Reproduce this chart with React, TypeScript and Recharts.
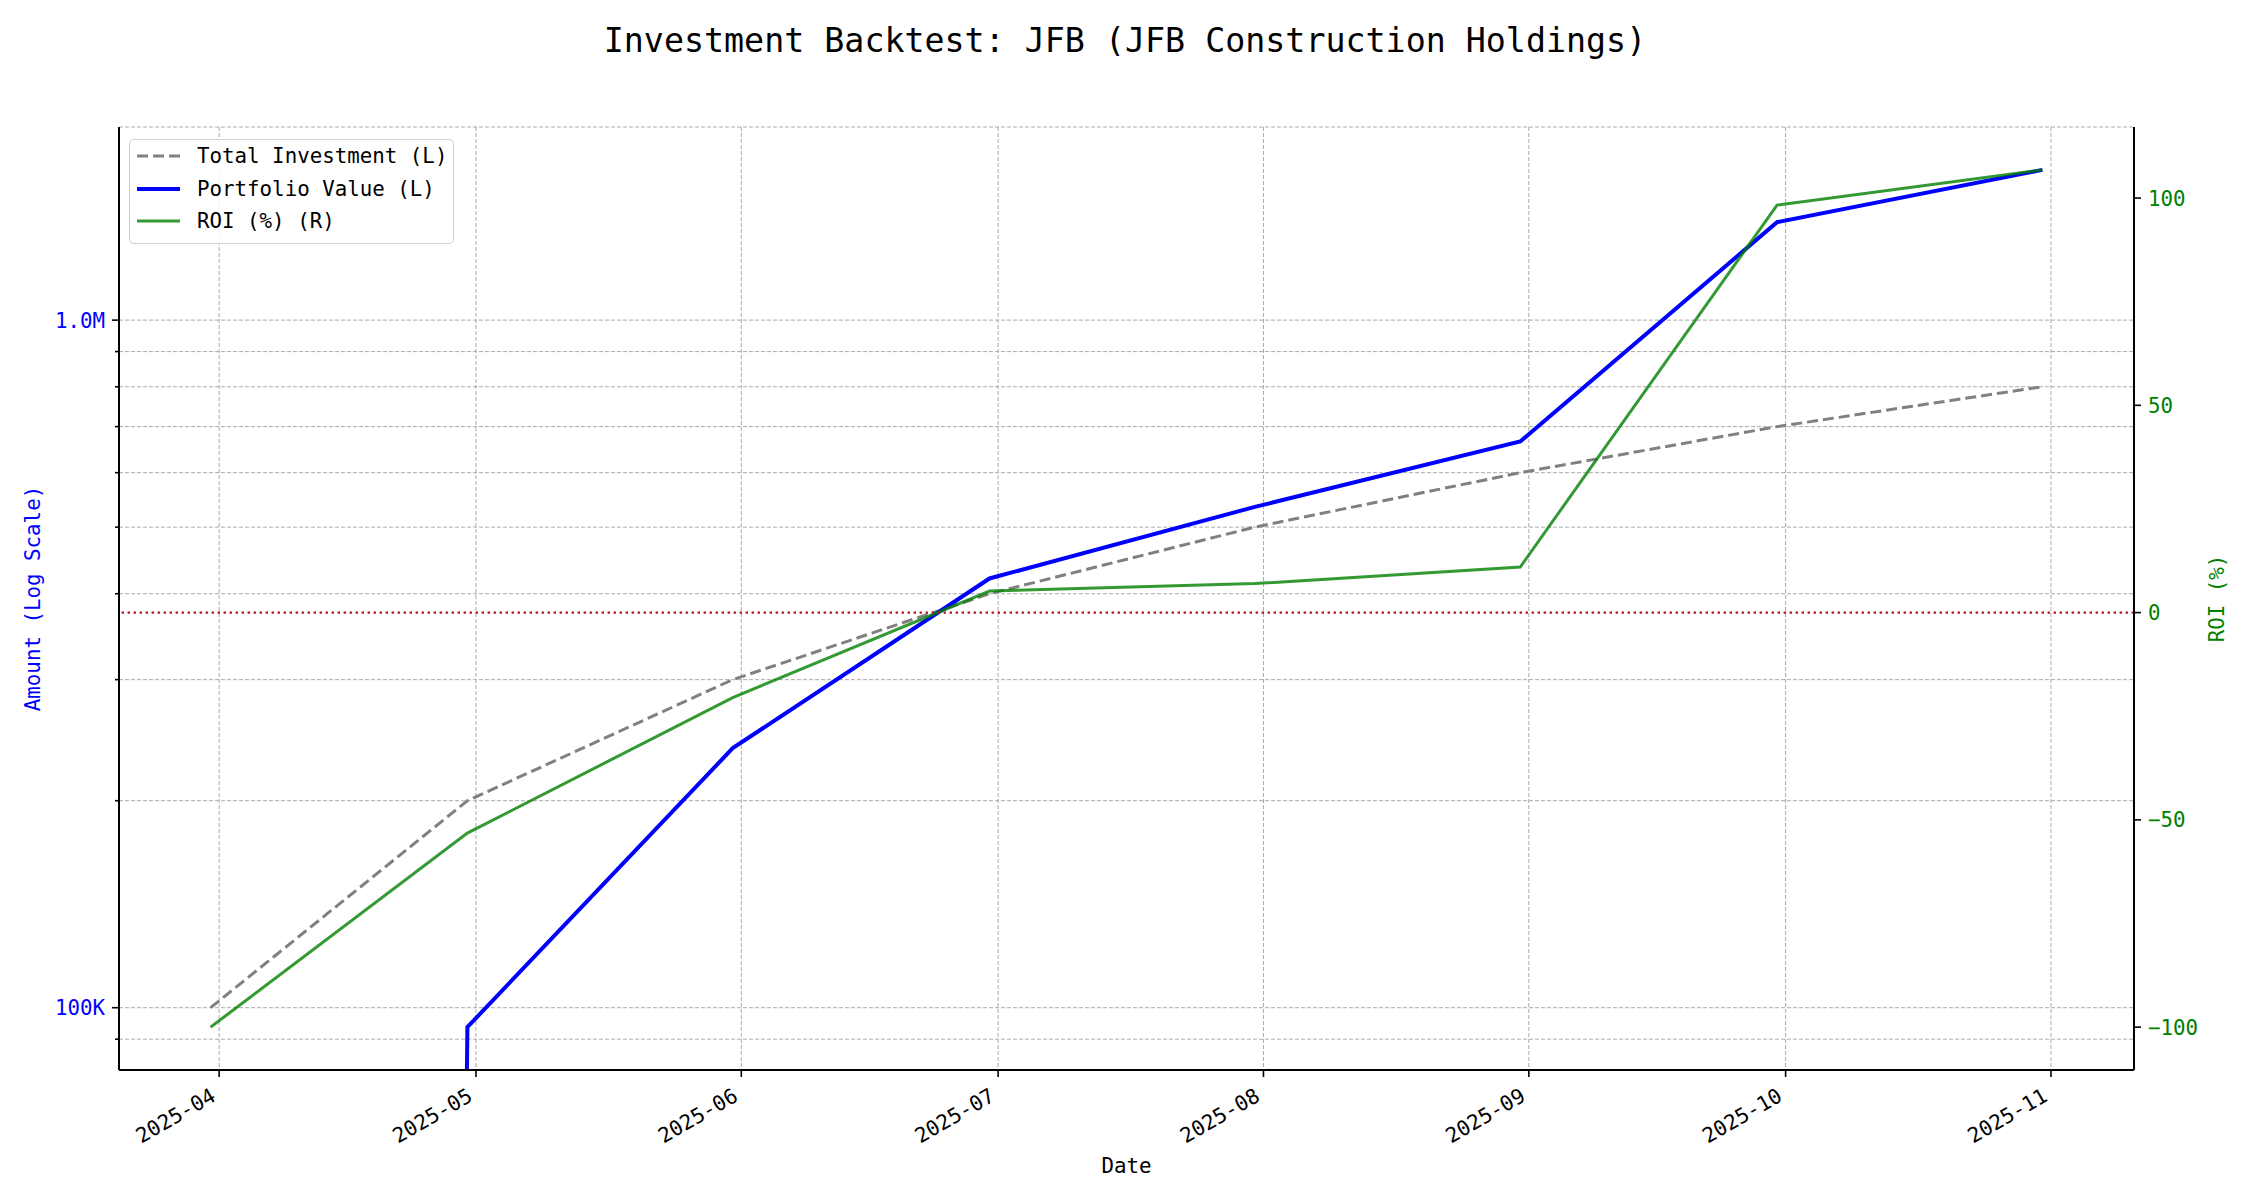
import React from 'react';
import { LineChart, Line, XAxis, YAxis, CartesianGrid, ReferenceLine, Legend } from 'recharts';

// month-end snapshots of the backtest
const dates = ['2025-03-31', '2025-04-30', '2025-05-31', '2025-06-30', '2025-07-31', '2025-08-31', '2025-09-30', '2025-10-31'];
const totalInvestment = [100000, 200000, 300000, 400000, 500000, 600000, 700000, 800000];
const portfolioValue = [0, 93700, 238500, 421000, 535000, 666000, 1388000, 1654000];
const roiPct = [-100, -53.2, -20.5, 5.2, 7.0, 11.0, 98.3, 106.8];

const monthTicks = ['2025-04-01', '2025-05-01', '2025-06-01', '2025-07-01', '2025-08-01', '2025-09-01', '2025-10-01', '2025-11-01'];
const amountMajorTicks = [100000, 1000000];
const amountMinorTicks = [90000, 200000, 300000, 400000, 500000, 600000, 700000, 800000, 900000];
const roiTicks = [-100, -50, 0, 50, 100];

const FONT = "'DejaVu Sans Mono', monospace";
const FS = 20.8;
// a log axis can't show 0, so clip it far below the bottom (like matplotlib does)
const LOG_FLOOR = 1e-30;

const toTs = (d: string) => Date.parse(d + 'T00:00:00Z');
const pad = (lo: number, hi: number) => {
    const d = (hi - lo) * 0.05;
    return [lo - d, hi + d];
};

const ts = dates.map(toTs);
const xDomain = pad(Math.min(...ts), Math.max(...ts));
const logVals = [...totalInvestment, ...portfolioValue].filter(v => v > 0).map(v => Math.log10(v));
const logDomain = pad(Math.min(...logVals), Math.max(...logVals));
const amountDomain = [10 ** logDomain[0], 10 ** logDomain[1]];
const roiDomain = pad(Math.min(...roiPct), Math.max(...roiPct));

const chartData = dates.map((_, i) => ({
    t: ts[i],
    invested: totalInvestment[i],
    value: Math.max(portfolioValue[i], LOG_FLOOR),
    roi: roiPct[i],
}));

const fmtAmount = (v: number) => (v >= 1e6 ? `${(v / 1e6).toFixed(1)}M` : `${Math.round(v / 1e3)}K`);
const fmtMonth = (v: number) => {
    const d = new Date(v);
    return `${d.getUTCFullYear()}-${String(d.getUTCMonth() + 1).padStart(2, '0')}`;
};

const AmountTick = (props: any) => {
    const { x, y, payload } = props;
    const major = amountMajorTicks.includes(payload.value);
    const axisX = x + 14;
    return (
        <g>
            <line x1={axisX - (major ? 7 : 4)} x2={axisX} y1={y} y2={y} stroke="#000" strokeWidth={1.6} />
            {major && (
                <text x={x} y={y} dy="0.36em" textAnchor="end" fill="blue" fontSize={FS} fontFamily={FONT}>
                    {fmtAmount(payload.value)}
                </text>
            )}
        </g>
    );
};

const RoiTick = (props: any) => {
    const { x, y, payload } = props;
    const v = payload.value as number;
    return (
        <text x={x} y={y} dy="0.36em" textAnchor="start" fill="green" fontSize={FS} fontFamily={FONT}>
            {v < 0 ? `\u2212${Math.abs(v)}` : String(v)}
        </text>
    );
};

const DateTick = (props: any) => {
    const { x, y, payload } = props;
    const px = x - 2;
    const py = y + 21;
    return (
        <text x={px} y={py} transform={`rotate(-30 ${px} ${py})`} textAnchor="end" fill="#000" fontSize={FS} fontFamily={FONT}>
            {fmtMonth(payload.value)}
        </text>
    );
};

const LegendBox = () => {
    const rows = [
        { label: 'Total Investment (L)', color: '#808080', width: 3, dash: '11 5' },
        { label: 'Portfolio Value (L)', color: '#0000ff', width: 4, dash: undefined },
        { label: 'ROI (%) (R)', color: '#008000', width: 3, dash: undefined, opacity: 0.8 },
    ];
    return (
        <div
            style={{
                border: '1px solid #d0d0d0',
                borderRadius: 5,
                background: 'rgba(255,255,255,0.85)',
                padding: '0 6px 5px 7px',
                fontFamily: FONT,
                fontSize: FS,
                color: '#000',
            }}
        >
            {rows.map(r => (
                <div key={r.label} style={{ display: 'flex', alignItems: 'center', height: 32.5, whiteSpace: 'nowrap' }}>
                    <svg width={43} height={10} style={{ marginRight: 17 }}>
                        <line x1={0} x2={43} y1={5} y2={5} stroke={r.color} strokeWidth={r.width} strokeDasharray={r.dash} strokeOpacity={r.opacity ?? 1} />
                    </svg>
                    <span>{r.label}</span>
                </div>
            ))}
        </div>
    );
};

export default function App() {
    return (
        <div style={{ position: 'relative', width: 2250, height: 1200, background: '#fff' }}>
            <style>{'body{margin:0}'}</style>
            <div
                style={{
                    position: 'absolute',
                    top: 21,
                    left: 0,
                    width: 2250,
                    height: 40,
                    lineHeight: '40px',
                    textAlign: 'center',
                    fontFamily: FONT,
                    fontSize: 33.3,
                    color: '#000',
                    zIndex: 2,
                }}
            >
                Investment Backtest: JFB (JFB Construction Holdings)
            </div>
            <LineChart width={2250} height={1200} data={chartData} margin={{ top: 127, right: 16, bottom: 30, left: 19 }}>
                <CartesianGrid yAxisId="left" stroke="#aaaaaa" strokeDasharray="4 2" strokeWidth={1} />
                <XAxis
                    dataKey="t"
                    type="number"
                    scale="linear"
                    domain={xDomain}
                    allowDataOverflow
                    ticks={monthTicks.map(toTs)}
                    interval={0}
                    height={100}
                    tick={<DateTick />}
                    tickSize={7}
                    tickMargin={2}
                    tickLine={{ stroke: '#000', strokeWidth: 1.6 }}
                    axisLine={{ stroke: '#000', strokeWidth: 2 }}
                    label={{
                        content: (p: any) => (
                            <text x={p.viewBox.x + p.viewBox.width / 2} y={p.viewBox.y + 96} textAnchor="middle" dominantBaseline="central" fontSize={FS} fontFamily={FONT} fill="#000">
                                Date
                            </text>
                        ),
                    }}
                />
                <XAxis xAxisId="top" orientation="top" type="number" domain={xDomain} allowDataOverflow height={0} tick={false} tickLine={false} axisLine={{ stroke: '#000', strokeWidth: 2 }} />
                <YAxis
                    yAxisId="left"
                    scale="log"
                    domain={amountDomain}
                    allowDataOverflow
                    ticks={[...amountMinorTicks, ...amountMajorTicks].sort((a, b) => a - b)}
                    interval={0}
                    width={100}
                    tick={<AmountTick />}
                    tickSize={7}
                    tickMargin={7}
                    tickLine={false}
                    axisLine={{ stroke: '#000', strokeWidth: 2 }}
                    label={{
                        content: (p: any) => {
                            const cx = p.viewBox.x + 14;
                            const cy = p.viewBox.y + p.viewBox.height / 2;
                            return (
                                <text x={cx} y={cy} transform={`rotate(-90 ${cx} ${cy})`} textAnchor="middle" dominantBaseline="central" fontSize={FS} fontFamily={FONT} fill="blue">
                                    Amount (Log Scale)
                                </text>
                            );
                        },
                    }}
                />
                <YAxis
                    yAxisId="right"
                    orientation="right"
                    domain={roiDomain}
                    allowDataOverflow
                    ticks={roiTicks}
                    interval={0}
                    width={100}
                    tick={<RoiTick />}
                    tickSize={7}
                    tickMargin={7}
                    tickLine={{ stroke: '#000', strokeWidth: 1.6 }}
                    axisLine={{ stroke: '#000', strokeWidth: 2 }}
                    label={{
                        content: (p: any) => {
                            const cx = p.viewBox.x + 83;
                            const cy = p.viewBox.y + p.viewBox.height / 2;
                            return (
                                <text x={cx} y={cy} transform={`rotate(-90 ${cx} ${cy})`} textAnchor="middle" dominantBaseline="central" fontSize={FS} fontFamily={FONT} fill="green">
                                    ROI (%)
                                </text>
                            );
                        },
                    }}
                />
                <Line yAxisId="left" dataKey="invested" name="Total Investment (L)" stroke="#808080" strokeWidth={3} strokeDasharray="11 5" dot={false} activeDot={false} isAnimationActive={false} />
                <Line yAxisId="left" dataKey="value" name="Portfolio Value (L)" stroke="#0000ff" strokeWidth={4} dot={false} activeDot={false} isAnimationActive={false} />
                <Line yAxisId="right" dataKey="roi" name="ROI (%) (R)" stroke="#008000" strokeOpacity={0.8} strokeWidth={3} dot={false} activeDot={false} isAnimationActive={false} />
                <ReferenceLine yAxisId="right" y={0} stroke="#bb1a1a" strokeWidth={2.2} strokeDasharray="2.4 3.6" />
                <Legend layout="vertical" align="center" verticalAlign="middle" wrapperStyle={{ top: 139, left: 129, width: 'auto', height: 'auto' }} content={() => <LegendBox />} />
            </LineChart>
        </div>
    );
}
